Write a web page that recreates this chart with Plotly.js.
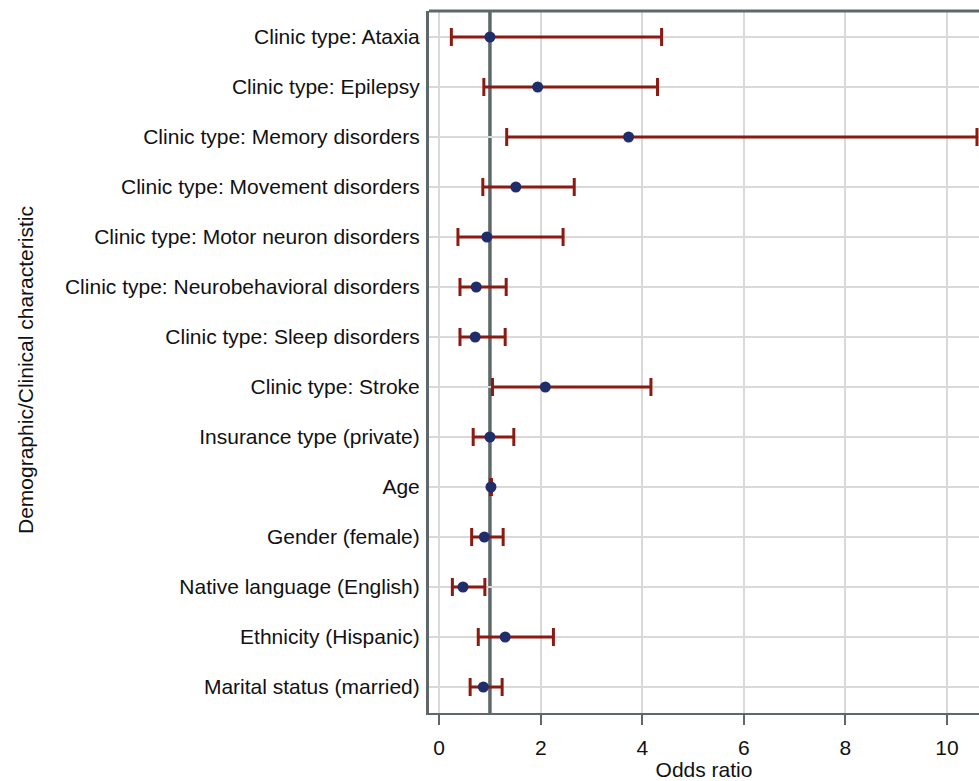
<!DOCTYPE html>
<html>
<head>
<meta charset="utf-8">
<script src="https://cdn.plot.ly/plotly-3.0.1.min.js"></script>
<style>html,body{margin:0;padding:0;background:#fff;}#chart{width:979px;height:781px;}</style>
</head>
<body>
<div id="chart"></div>
<script>
const characteristics = [
  "Clinic type: Ataxia",
  "Clinic type: Epilepsy",
  "Clinic type: Memory disorders",
  "Clinic type: Movement disorders",
  "Clinic type: Motor neuron disorders",
  "Clinic type: Neurobehavioral disorders",
  "Clinic type: Sleep disorders",
  "Clinic type: Stroke",
  "Insurance type (private)",
  "Age",
  "Gender (female)",
  "Native language (English)",
  "Ethnicity (Hispanic)",
  "Marital status (married)"
];
const oddsRatio = [1.00, 1.94, 3.73, 1.51, 0.94, 0.73, 0.71, 2.09, 1.00, 1.02, 0.89, 0.47, 1.30, 0.87];
const ciLower   = [0.24, 0.88, 1.33, 0.86, 0.37, 0.41, 0.41, 1.05, 0.67, 1.01, 0.64, 0.26, 0.77, 0.61];
const ciUpper   = [4.38, 4.30, 10.59, 2.66, 2.44, 1.32, 1.30, 4.17, 1.47, 1.03, 1.26, 0.90, 2.25, 1.24];
const xTicks = [0, 2, 4, 6, 8, 10];

const axisColor = "#5e686b";
const gridColor = "#d9d9d9";
const font = "Liberation Sans, Arial, sans-serif";
const textColor = "#111111";

const trace = {
  type: "scatter",
  mode: "markers",
  x: oddsRatio,
  y: characteristics,
  marker: {color: "#1f2d6b", size: 11},
  error_x: {
    type: "data",
    symmetric: false,
    array: oddsRatio.map((v, i) => ciUpper[i] - v),
    arrayminus: oddsRatio.map((v, i) => v - ciLower[i]),
    color: "#8b1a12",
    thickness: 3,
    width: 9
  },
  hoverinfo: "x+y"
};

const layout = {
  width: 979,
  height: 781,
  margin: {l: 429, r: 0, t: 11, b: 68},
  paper_bgcolor: "#fff",
  plot_bgcolor: "#fff",
  showlegend: false,
  font: {family: font, size: 21, color: textColor},
  xaxis: {
    range: [-0.2, 10.63],
    tickvals: xTicks,
    ticktext: xTicks.map(String),
    showgrid: true,
    gridcolor: gridColor,
    gridwidth: 2,
    zeroline: false,
    showline: true,
    linecolor: axisColor,
    linewidth: 2,
    ticks: "outside",
    ticklen: 10,
    tickwidth: 2,
    tickcolor: axisColor,
    ticklabelstandoff: 5,
    tickfont: {family: font, size: 21, color: textColor},
    title: {text: "Odds ratio", font: {family: font, size: 21, color: textColor}, standoff: 8}
  },
  yaxis: {
    type: "category",
    categoryorder: "array",
    categoryarray: characteristics,
    range: [13.52, -0.52],
    showgrid: true,
    gridcolor: gridColor,
    gridwidth: 2,
    zeroline: false,
    showline: true,
    linecolor: axisColor,
    linewidth: 3,
    ticks: "",
    ticklabelstandoff: 2,
    tickfont: {family: font, size: 21, color: textColor}
  },
  shapes: [
    {type: "line", xref: "x", yref: "paper", x0: 1, x1: 1, y0: 0, y1: 1,
     line: {color: axisColor, width: 3.5}, layer: "below"},
    {type: "line", xref: "paper", yref: "paper", x0: 0, x1: 1, y0: 1, y1: 1,
     line: {color: axisColor, width: 3}}
  ],
  annotations: [
    {text: "Demographic/Clinical characteristic", xref: "paper", yref: "paper",
     x: (25 - 429) / 550, xanchor: "center", y: 0.5, yanchor: "middle", textangle: -90,
     yshift: -8, showarrow: false, font: {family: font, size: 21, color: textColor}}
  ]
};

Plotly.newPlot("chart", [trace], layout, {displayModeBar: false, staticPlot: true});
</script>
</body>
</html>
